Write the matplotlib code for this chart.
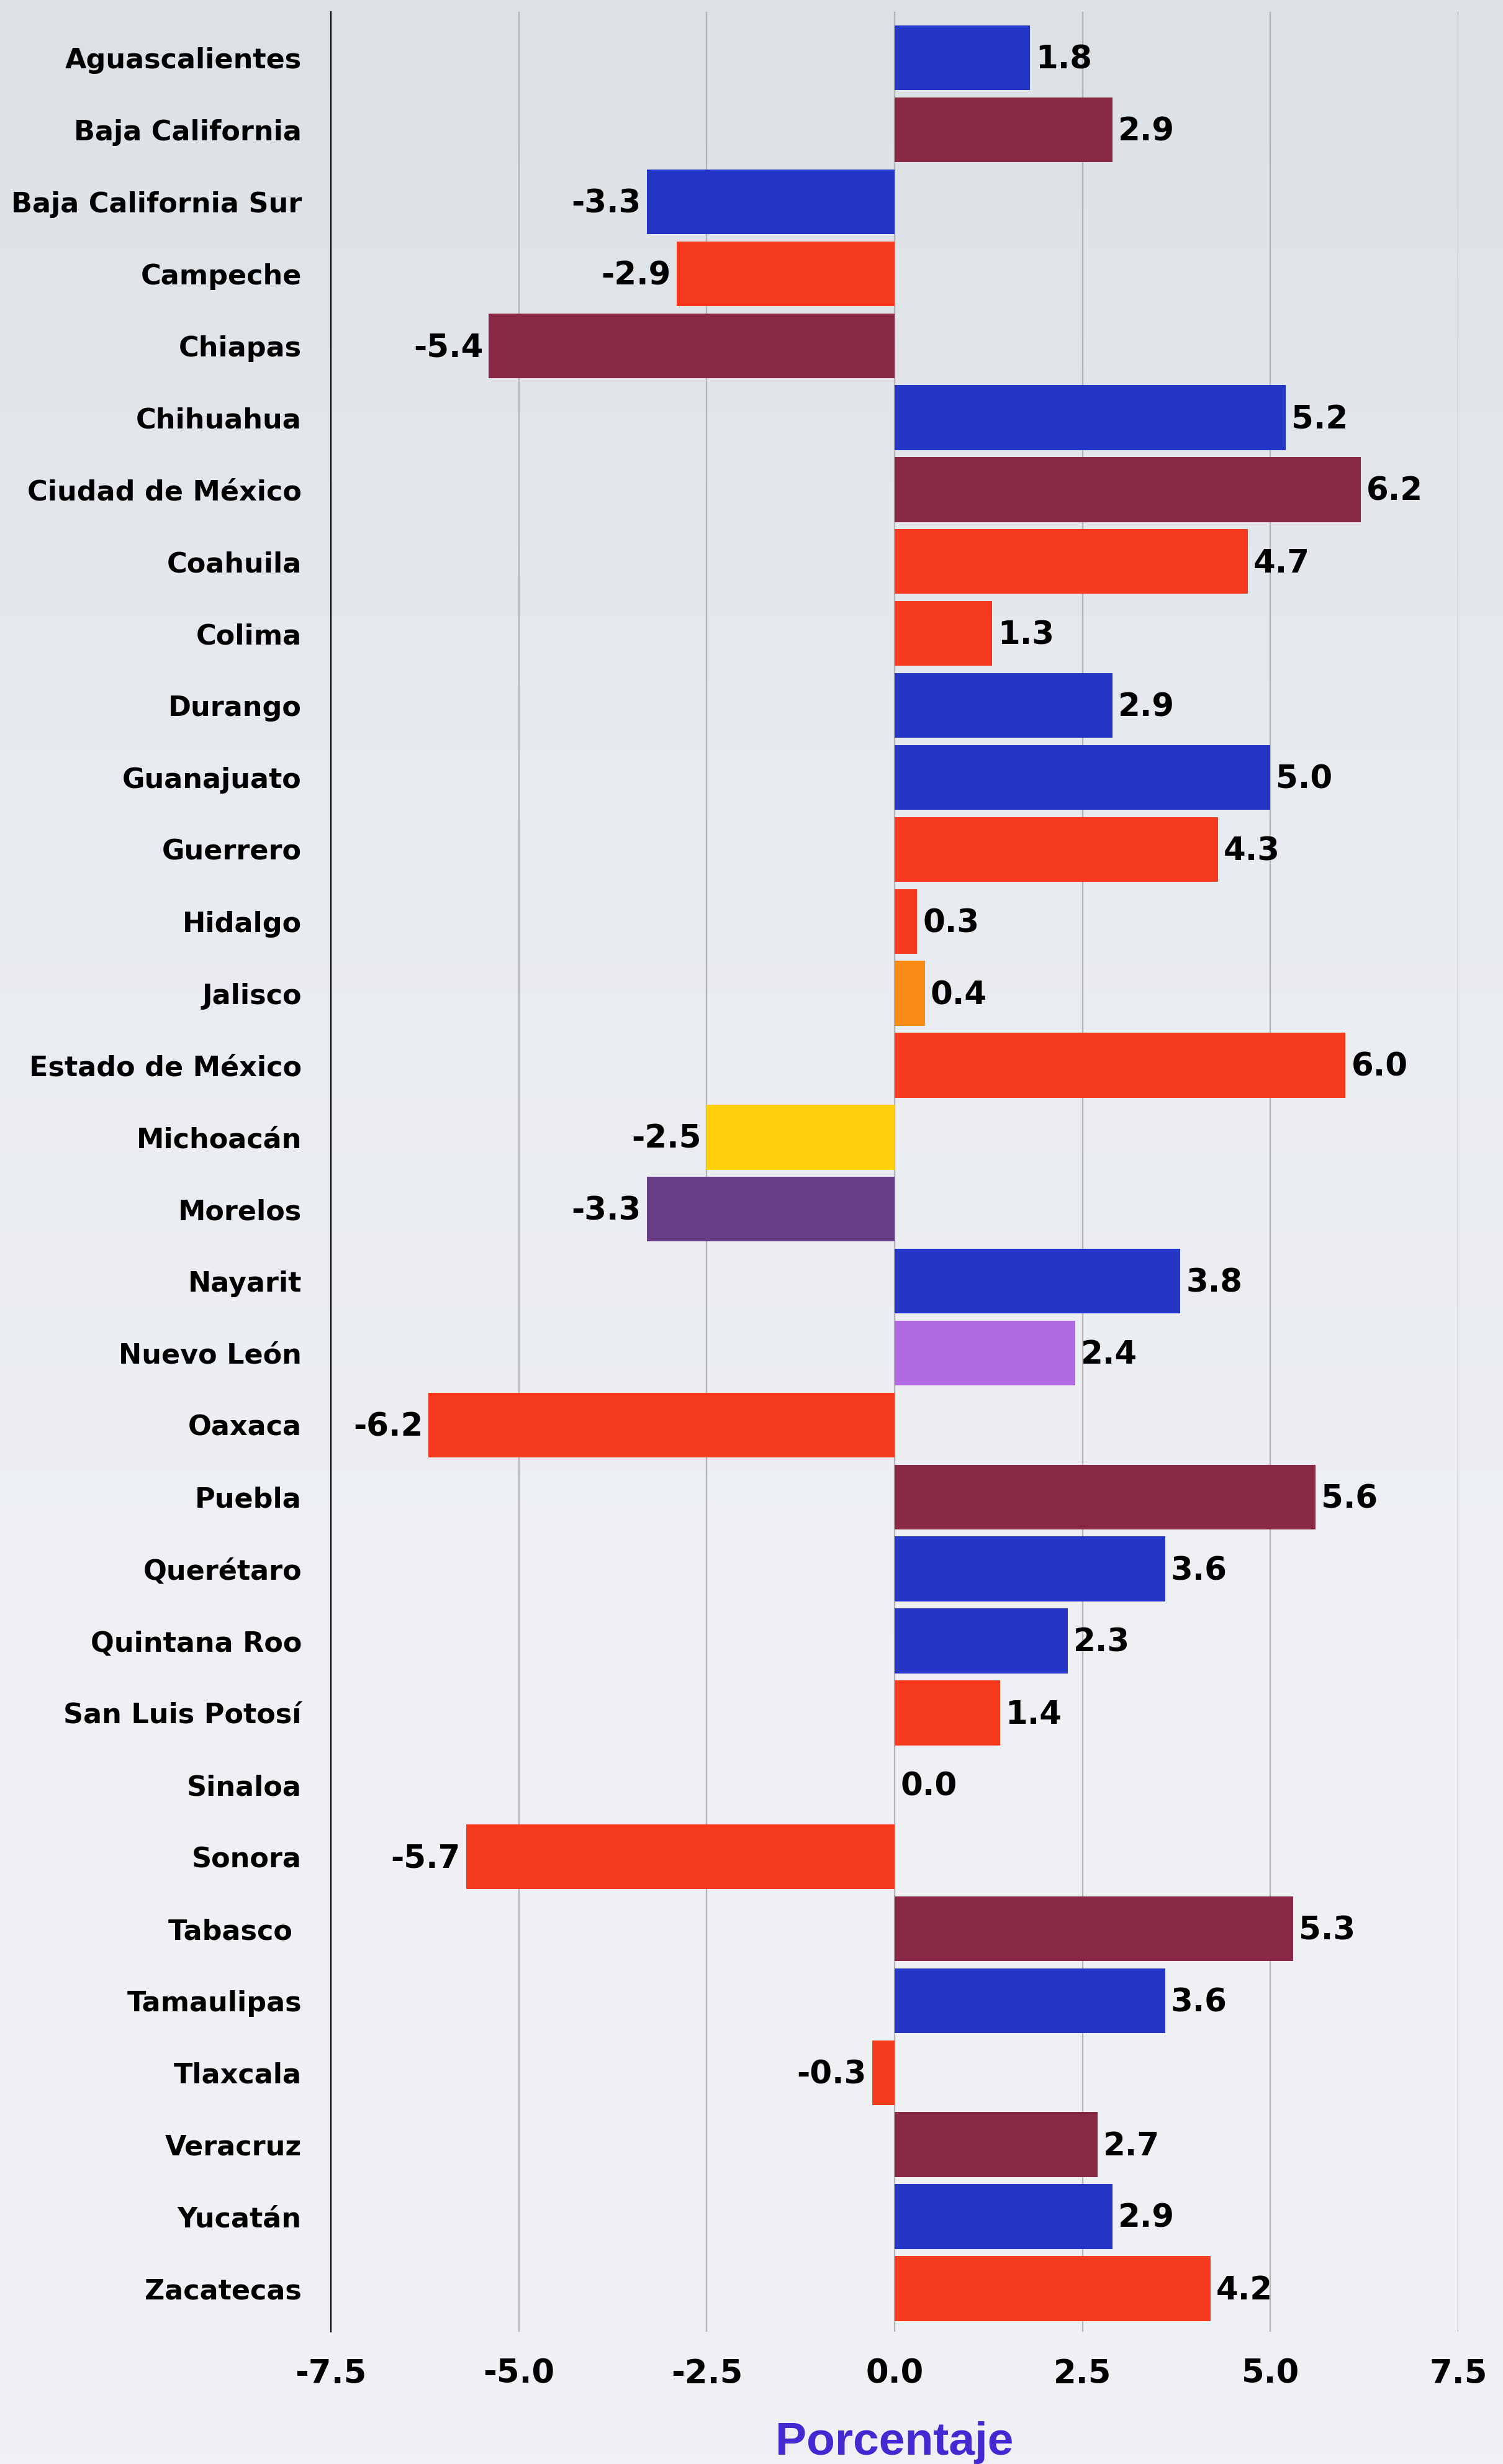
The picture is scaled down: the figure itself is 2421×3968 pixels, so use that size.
import numpy as np
import matplotlib
matplotlib.use("Agg")
import matplotlib.pyplot as plt
from matplotlib.colors import LinearSegmentedColormap

# ---------------- data ----------------
estados = [
    "Aguascalientes", "Baja California", "Baja California Sur", "Campeche",
    "Chiapas", "Chihuahua", "Ciudad de México", "Coahuila", "Colima",
    "Durango", "Guanajuato", "Guerrero", "Hidalgo", "Jalisco",
    "Estado de México", "Michoacán", "Morelos", "Nayarit", "Nuevo León",
    "Oaxaca", "Puebla", "Querétaro", "Quintana Roo", "San Luis Potosí",
    "Sinaloa", "Sonora", "Tabasco ", "Tamaulipas", "Tlaxcala", "Veracruz",
    "Yucatán", "Zacatecas",
]
valores = [
    1.8, 2.9, -3.3, -2.9, -5.4, 5.2, 6.2, 4.7, 1.3, 2.9, 5.0, 4.3, 0.3, 0.4,
    6.0, -2.5, -3.3, 3.8, 2.4, -6.2, 5.6, 3.6, 2.3, 1.4, 0.0, -5.7, 5.3, 3.6,
    -0.3, 2.7, 2.9, 4.2,
]
grupo = [
    "PAN", "MORENA", "PAN", "PRI", "MORENA", "PAN", "MORENA", "PRI", "PRI",
    "PAN", "PAN", "PRI", "PRI", "MC", "PRI", "PRD", "PES", "PAN", "IND",
    "PRI", "MORENA", "PAN", "PAN", "PRI", "PRI", "PRI", "MORENA", "PAN",
    "PRI", "MORENA", "PAN", "PRI",
]
xticks = [-7.5, -5.0, -2.5, 0.0, 2.5, 5.0, 7.5]
xlabel = "Porcentaje"

# ---------------- style ----------------
color_grupo = {
    "PAN": "#2336c6",
    "MORENA": "#8a2945",
    "PRI": "#f53a1e",
    "MC": "#fb8a17",
    "PRD": "#fecf0d",
    "PES": "#673d86",
    "IND": "#b26ae2",
}

fig = plt.figure(figsize=(24.21, 39.68), dpi=100)

# background gradient
bg = fig.add_axes([0, 0, 1, 1], zorder=-10)
grad = np.linspace(0, 1, 256).reshape(-1, 1)
cmap = LinearSegmentedColormap.from_list(
    "bg", ["#dce1e6", "#e8ebef", "#eef0f4", "#eff1f4"])
bg.imshow(grad, aspect="auto", cmap=cmap, extent=[0, 1, 0, 1], origin="upper")
bg.axis("off")

ax = fig.add_axes([0.2202, 0.0537, 0.7501, 0.9415])
ax.set_facecolor("none")

pos = np.arange(len(estados))
bars = ax.barh(pos, valores, height=0.9,
               color=[color_grupo[g] for g in grupo], zorder=3)

ax.set_ylim(len(estados) - 1 + 0.60, -0.64)
ax.set_xlim(xticks[0], xticks[-1])
ax.set_yticks(pos)
ax.set_yticklabels(estados, fontsize=32, fontweight="bold",
                   family="DejaVu Sans")
ax.set_xticks(xticks)
ax.set_xticklabels([f"{t:.1f}" for t in xticks], fontsize=38,
                   fontweight="bold", family="DejaVu Sans")
ax.tick_params(axis="y", length=0, pad=34)
ax.tick_params(axis="x", length=0, pad=30)

for t in xticks[1:]:
    ax.axvline(t, color="#b5b5b5", lw=1.7, zorder=1)

for s in ["top", "right", "bottom"]:
    ax.spines[s].set_visible(False)
ax.spines["left"].set_color("#000000")
ax.spines["left"].set_linewidth(1.6)

for p, v in zip(pos, valores):
    ax.annotate(f"{v:.1f}", xy=(v, p),
                xytext=(6.5 if v >= 0 else -6.5, -2.5),
                textcoords="offset points",
                ha="left" if v >= 0 else "right", va="center",
                fontsize=37, fontweight="bold", family="DejaVu Sans",
                color="black", zorder=4)

ax.set_xlabel(xlabel, fontsize=54, fontweight="bold",
              family="Liberation Sans", color="#4329d2")
ax.xaxis.set_label_coords(0.5, -0.0385)

fig.savefig("out.png", dpi=100)
